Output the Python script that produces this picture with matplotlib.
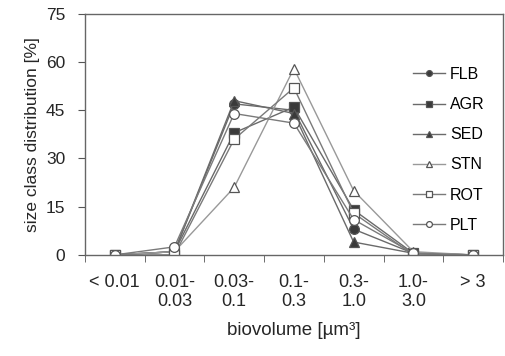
import matplotlib.pyplot as plt
import numpy as np

plt.rcParams['font.family'] = ['Liberation Sans', 'DejaVu Sans']

categories = ["< 0.01", "0.01-\n0.03", "0.03-\n0.1", "0.1-\n0.3", "0.3-\n1.0", "1.0-\n3.0", "> 3"]
flb = [0, 1, 47, 45, 8, 0.5, 0]
agr = [0, 1, 38, 46, 14, 0.5, 0]
sed = [0, 1, 48, 44, 4, 0.5, 0]
stn = [0, 1, 21, 58, 20, 1, 0]
rot = [0, 0, 36, 52, 13, 0, 0]
plt_ = [0, 2.5, 44, 41, 11, 0.5, 0]
yticks = [0, 15, 30, 45, 60, 75]

fig = plt.figure(figsize=(5.05, 3.56), dpi=100)
ax = fig.add_axes([0.168, 0.284, 0.828, 0.677])
x = np.arange(len(categories))

series = [
    ("FLB", flb, 'o', '#3a3a3a', '#6a6a6a'),
    ("AGR", agr, 's', '#3a3a3a', '#6a6a6a'),
    ("SED", sed, '^', '#3a3a3a', '#6a6a6a'),
    ("STN", stn, '^', '#ffffff', '#999999'),
    ("ROT", rot, 's', '#ffffff', '#7a7a7a'),
    ("PLT", plt_, 'o', '#ffffff', '#7a7a7a'),
]
for name, vals, m, fc, lc in series:
    ax.plot(x, vals, color=lc, lw=1.0, marker=m, markersize=7,
            markerfacecolor=fc, markeredgecolor='#555555', markeredgewidth=0.9,
            label=name)

ax.set_xlim(-0.5, len(categories) - 0.5)
ax.set_ylim(0, 75)
ax.set_yticks(yticks)
ax.set_xticks(x)
ax.set_xticklabels(categories, fontsize=13, color='#262626', linespacing=1.1)
ax.set_xticks(np.arange(-0.5, len(categories) - 0.4, 1), minor=True)
ax.tick_params(axis='x', which='major', length=0, pad=14)
ax.tick_params(axis='x', which='minor', direction='out', length=5, color='#555555')
ax.tick_params(axis='y', direction='out', length=5, color='#555555', labelsize=12.5,
               labelcolor='#262626', pad=9)
for s in ax.spines.values():
    s.set_color('#666666')
    s.set_linewidth(1.0)

ax.set_ylabel("size class distribution [%]", fontsize=12.5, color='#262626', labelpad=4)
ax.set_xlabel("biovolume [µm³]", fontsize=13.5, color='#262626', labelpad=9)

ax.legend(loc='upper left', bbox_to_anchor=(0.818, 0.812), bbox_transform=fig.transFigure,
          frameon=False, fontsize=11.5, borderpad=0, borderaxespad=0,
          handlelength=2.0, labelspacing=0.95, handletextpad=0.3, markerscale=0.6)

fig.savefig("out.png", dpi=100)
